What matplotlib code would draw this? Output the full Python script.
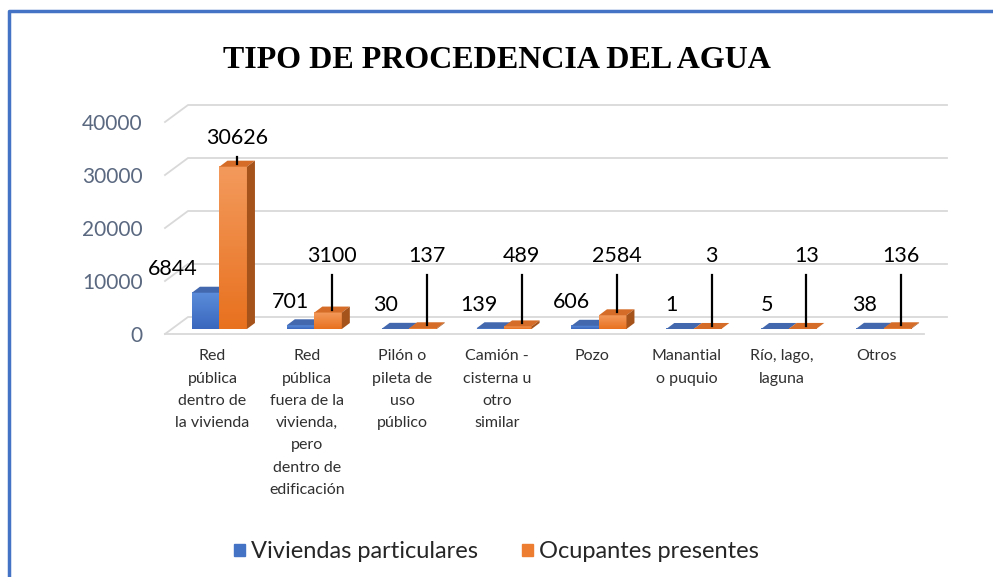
import matplotlib.pyplot as plt
import numpy as np
from matplotlib.patches import Polygon, Patch
from matplotlib.lines import Line2D
from matplotlib.colors import LinearSegmentedColormap

# Datos del gráfico
categorias = ["Red\npública\ndentro de\nla vivienda",
              "Red\npública\nfuera de la\nvivienda,\npero\ndentro de\nedificación",
              "Pilón o\npileta de\nuso\npúblico",
              "Camión -\ncisterna u\notro\nsimilar",
              "Pozo",
              "Manantial\no puquio",
              "Río, lago,\nlaguna",
              "Otros"]
viviendas = [6844, 701, 30, 139, 606, 1, 5, 38]
ocupantes = [30626, 3100, 137, 489, 2584, 3, 13, 136]
yticks = [0, 10000, 20000, 30000, 40000]
series = ["Viviendas particulares", "Ocupantes presentes"]

# desplazamiento horizontal de las etiquetas azules (pt)
desp_azul = [-24, -7, -7, -8, -10, -6, -6, -4]

FONT = "Lato"
W, H = 993, 577
fig = plt.figure(figsize=(W / 100, H / 100), dpi=100)
ax = fig.add_axes([165 / W, 243 / H, 759 / W, 212 / H])
ax.set_xlim(-0.5, 7.5)
ax.set_ylim(0, 40000)
for s in ax.spines.values():
    s.set_visible(False)
ax.set_yticks(yticks, [str(t) for t in yticks], fontfamily=FONT)
ax.set_xticks(range(len(categorias)), categorias, fontfamily=FONT, linespacing=1.75)
ax.tick_params(axis="y", length=0, pad=16, labelsize=15, labelcolor="#5a6880")
ax.tick_params(axis="x", length=0, pad=11, labelsize=11.5, labelcolor="#303030")


def px(dx, dy):
    # convierte un desplazamiento en pixeles a unidades de datos
    inv = ax.transData.inverted()
    (x0, y0), (x1, y1) = inv.transform([(0, 0), (dx, dy)])
    return x1 - x0, y1 - y0


# rejilla en perspectiva
gx, gy = px(23, 17)
for t in yticks:
    ax.plot([-0.5, -0.5 + gx, 7.5 + gx], [t, t + gy, t + gy],
            color="#d9d9d9", lw=1.3, clip_on=False, zorder=0)
ax.plot([-0.5, 7.5], [0, 0], color="#d9d9d9", lw=1.3, clip_on=False, zorder=0)

w = 0.29
sx, sy = px(7, 5)      # posición de las barras en profundidad
bx, by = px(8, 6)      # profundidad de las barras

estilos = [
    dict(top="#5b8ddb", bot="#3a67bd", cara="#4368ae", lado="#34579a"),
    dict(top="#f39a5c", bot="#e8711f", cara="#d56c27", lado="#a6531b"),
]


def barra(x0, v, est, z):
    x1 = x0 + w
    y0, y1 = sy, v + sy
    ax.bar(x0, v, width=w, bottom=sy, align="edge", color=est["bot"], zorder=z, lw=0)
    cmap = LinearSegmentedColormap.from_list("g", [est["bot"], est["top"]])
    ax.imshow(np.linspace(0, 1, 64).reshape(-1, 1), cmap=cmap, origin="lower",
              extent=(x0, x1, y0, y1), aspect="auto", zorder=z + 0.1)
    ax.add_patch(Polygon([(x0, y1), (x1, y1), (x1 + bx, y1 + by), (x0 + bx, y1 + by)],
                         closed=True, color=est["cara"], lw=0, zorder=z + 0.2))
    ax.add_patch(Polygon([(x1, y0), (x1 + bx, y0 + by), (x1 + bx, y1 + by), (x1, y1)],
                         closed=True, color=est["lado"], lw=0, zorder=z + 0.2))


for i, (vb, vo) in enumerate(zip(viviendas, ocupantes)):
    barra(i - w + sx, vb, estilos[0], 2 + i)
    barra(i + sx, vo, estilos[1], 2.5 + i)

    # etiqueta azul
    ax.annotate(str(vb), (i - w / 2 + sx, vb + sy), xytext=(desp_azul[i], 17),
                textcoords="offset points", ha="center", va="center",
                fontsize=15.5, fontfamily=FONT, color="black", zorder=20)

    # etiqueta naranja con línea guía
    xc = i + w / 2 + sx + bx / 2
    ly = max(vo + 6400, 14800)
    ax.text(xc, ly, str(vo), ha="center", va="center", fontsize=15.5,
            fontfamily=FONT, color="black", zorder=20)
    ax.plot([xc, xc], [ly - px(0, 19)[1], vo + sy + by / 2],
            color="black", lw=1.6, zorder=19, clip_on=False)

ax.set_xlim(-0.5, 7.5)
ax.set_ylim(0, 40000)

# título
fig.text(0.5, 1 - 60 / H, "TIPO DE PROCEDENCIA DEL AGUA", ha="center", va="center",
         fontsize=23, fontweight="bold", fontfamily="Liberation Serif")

# leyenda
handles = [Patch(color="#4472c4"), Patch(color="#ed7d31")]
fig.legend(handles, series, loc="center", bbox_to_anchor=(0.5, 1 - 552 / H), ncol=2,
           frameon=False, prop=dict(family=FONT, size=17), labelcolor="#262626",
           handlelength=0.45, handleheight=0.45, handletextpad=0.25, columnspacing=1.9)

# borde azul
fig.add_artist(Line2D([9 / W, 9 / W, 1], [0, 1 - 11 / H, 1 - 11 / H],
                      transform=fig.transFigure, color="#4472c4", lw=2.5))

fig.savefig("out.png", dpi=100)
